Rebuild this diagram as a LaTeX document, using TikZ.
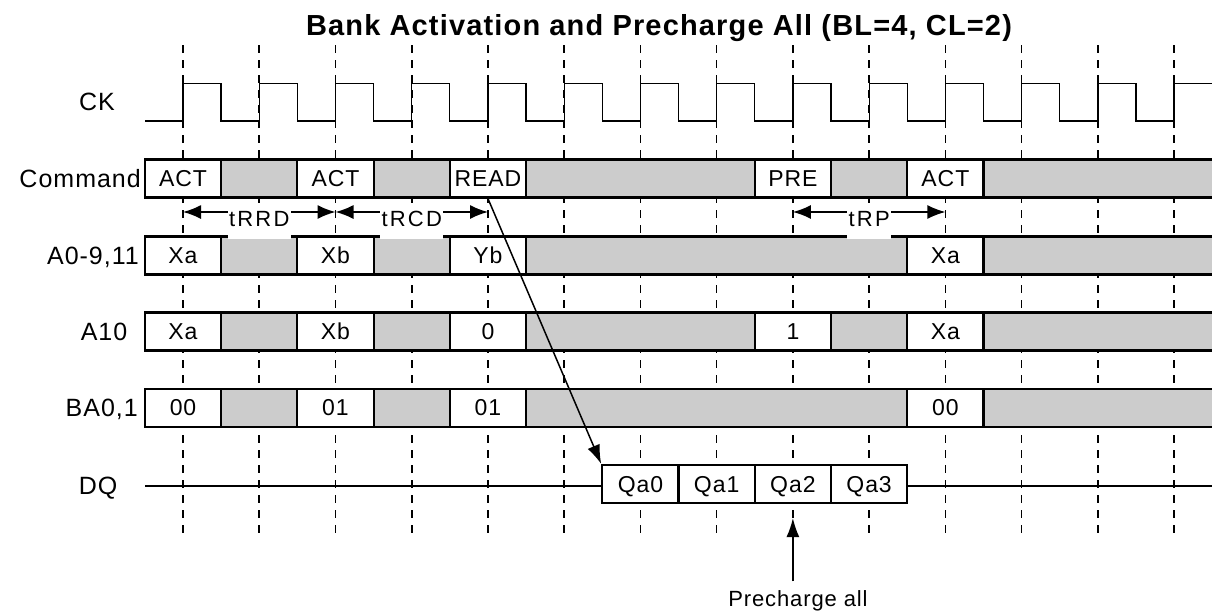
\documentclass[tikz,border=0pt]{standalone}
\usepackage{fontspec}
\setmainfont{Liberation Sans}[LetterSpace=4]
\usetikzlibrary{arrows.meta}
\tikzstyle{sig} = [inner sep=0pt, text height=17.9pt, text depth=0pt, font=\fontsize{25}{28}\selectfont]
\tikzstyle{cell} = [rectangle, minimum width=76.24pt, minimum height=38pt, inner sep=0pt, text height=16.3pt, text depth=0pt, draw=black, line width=2.2pt, fill=white, font=\fontsize{23}{26}\selectfont]
\tikzstyle{gridline} = [line width=1.6pt, dash pattern=on 8pt off 7pt]
\tikzstyle{clk} = [line width=1.3pt]
\tikzstyle{band} = [draw=black, fill=black!20, line width=2.2pt]
\tikzstyle{arrow} = [line width=1.5pt, -{Latex[length=19pt,width=13pt]}]
\tikzstyle{timing} = [line width=1.5pt, {Latex[length=18pt,width=14pt]}-{Latex[length=18pt,width=14pt]}]
\tikzstyle{tlabel} = [fill=white, anchor=north, yshift=4pt, inner xsep=1.5pt, inner ysep=0pt, text height=18pt, text depth=12pt, font=\fontsize{22}{26}\selectfont\addfontfeature{LetterSpace=10}]

\begin{document}
\begin{tikzpicture}[x=1pt, y=-1pt]

\useasboundingbox (0,0) rectangle (1212,611);

% title
\node[inner sep=0pt, text height=20.8pt, text depth=0pt, font=\bfseries\fontsize{29}{32}\selectfont] (title) at (659,25) {Bank Activation and Precharge All (BL=4, CL=2)};

% clock edges
\foreach \k in {0,...,13}
  \draw[gridline] ({183+76.24*\k},45) -- ({183+76.24*\k},534);

\draw[clk] (145,121) \foreach \k in {0,...,13} { -- ({183+76.24*\k},121) -- ({183+76.24*\k},83.3) -- ({221.12+76.24*\k},83.3) -- ({221.12+76.24*\k},121) };

% bus rows
\foreach \y in {178.5,255.5,331.5,407.8}
  \draw[band] (145,{\y-19}) rectangle (1216,{\y+19});

\coordinate (dqL) at (145,486);
\coordinate (dqR) at (1212,486);
\draw[line width=1.6pt] (dqL) -- (dqR);

\foreach \k/\t in {0/ACT,2/ACT,4/READ,8/PRE,10/ACT}
  \node[cell] (cmd\k) at ({183+76.24*\k},178.5) {\t};
\foreach \k/\t in {0/Xa,2/Xb,4/Yb,10/Xa}
  \node[cell] (adr\k) at ({183+76.24*\k},255.5) {\t};
\foreach \k/\t in {0/Xa,2/Xb,4/0,8/1,10/Xa}
  \node[cell] (ap\k) at ({183+76.24*\k},331.5) {\t};
\foreach \k/\t in {0/00,2/01,4/01,10/00}
  \node[cell] (ba\k) at ({183+76.24*\k},407.8) {\t};
\foreach \k in {0,...,3}
  \node[cell] (dq\k) at ({640.4+76.24*\k},484) {Qa\k};

% signal names
\node[sig] (ck) at (97,102) {CK};
\node[sig, anchor=east] (cmd) at (141,178.5) {Command};
\node[sig, anchor=east] (adr) at (139,255.5) {A0-9,11};
\node[sig] (ap) at (104,331.5) {A10};
\node[sig, anchor=east] (ba) at (138,407.8) {BA0,1};
\node[sig] (dq) at (98,486) {DQ};

% timing parameters
\coordinate (rrdA) at (183,212);
\coordinate (rrdB) at (335.5,212);
\coordinate (rcdB) at (488,212);
\coordinate (rpA) at (792.9,212);
\coordinate (rpB) at (945.4,212);
\draw[timing] (rrdA) -- node[tlabel]{tRRD} (rrdB);
\draw[timing] (rrdB) -- node[tlabel]{tRCD} (rcdB);
\draw[timing] (rpA) -- node[tlabel]{tRP} (rpB);

\draw[arrow] (cmd4.south) -- (dq0.north west);

\node[inner sep=0pt, text height=15.8pt, text depth=0pt, font=\fontsize{22}{26}\selectfont] (prech) at (798,598.5) {Precharge all};
\draw[arrow, shorten <=9pt, shorten >=14pt] (prech.north -| dq2.south) -- (dq2.south);

\end{tikzpicture}
\end{document}
